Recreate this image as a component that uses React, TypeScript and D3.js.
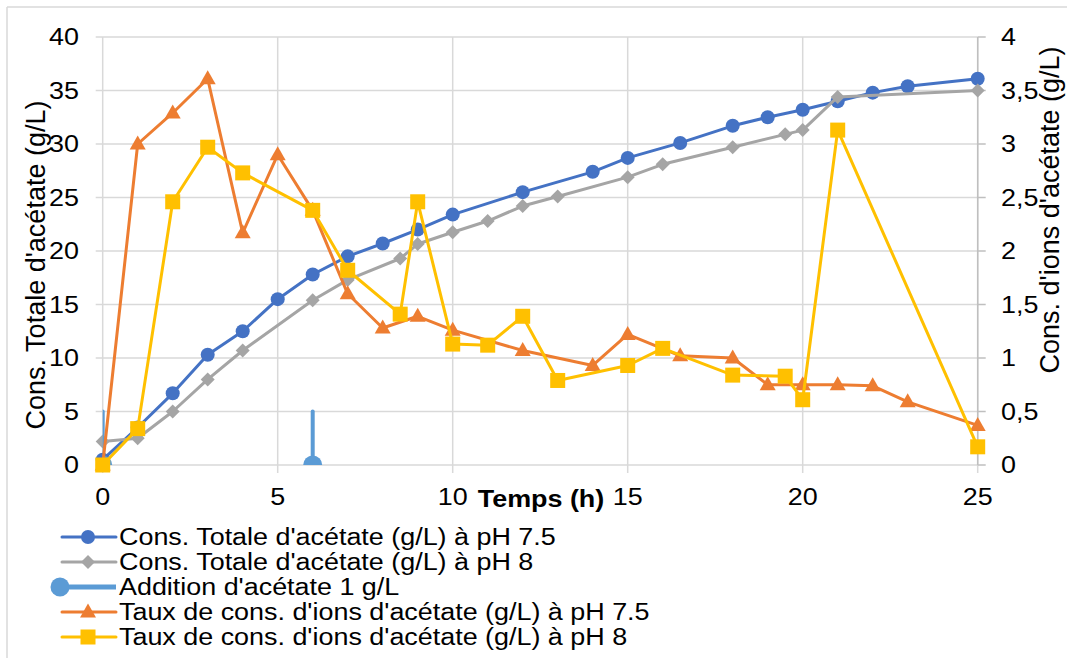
import React from "react";
import * as d3 from "d3";

// time (h) for the pH 7.5 runs
const hours75 = [0, 1, 2, 3, 4, 5, 6, 7, 8, 9, 10, 12, 14, 15, 16.5, 18, 19, 20, 21, 22, 23, 25];
const total75 = [0.5, 3.5, 6.7, 10.3, 12.5, 15.5, 17.8, 19.5, 20.7, 22.0, 23.4, 25.5, 27.4, 28.7, 30.1, 31.7, 32.5, 33.2, 34.0, 34.8, 35.4, 36.1];
const rate75 = [0, 3.0, 3.29, 3.61, 2.17, 2.9, 2.38, 1.6, 1.28, 1.39, 1.26, 1.07, 0.93, 1.22, 1.02, 1.0, 0.75, 0.75, 0.75, 0.74, 0.59, 0.37];

// time (h) for the pH 8 runs
const hours8 = [0, 1, 2, 3, 4, 6, 7, 8.5, 9, 10, 11, 12, 13, 15, 16, 18, 19.5, 20, 21, 25];
const total8 = [2.2, 2.5, 5.0, 8.0, 10.7, 15.4, 17.3, 19.3, 20.65, 21.75, 22.8, 24.2, 25.1, 26.9, 28.1, 29.7, 30.9, 31.3, 34.4, 35.0];
const rate8 = [0, 0.34, 2.46, 2.97, 2.73, 2.38, 1.82, 1.41, 2.46, 1.13, 1.12, 1.39, 0.79, 0.93, 1.09, 0.84, 0.83, 0.61, 3.13, 0.17];

// acetate additions (value + error bar height)
const additionHours = [0, 6];
const additionValue = [0, 0];
const additionBar = 5;

const xTicks = [0, 5, 10, 15, 20, 25];
const leftTicks = [0, 5, 10, 15, 20, 25, 30, 35, 40];
const rightTicks = [0, 0.5, 1, 1.5, 2, 2.5, 3, 3.5, 4];

const legendLabels = [
  "Cons. Totale d'acétate (g/L) à pH 7.5",
  "Cons. Totale d'acétate (g/L) à pH 8",
  "Addition d'acétate 1 g/L",
  "Taux de cons. d'ions d'acétate (g/L) à pH 7.5",
  "Taux de cons. d'ions d'acétate (g/L) à pH 8",
];

const BLUE = "#4472C4";
const GRAY = "#A5A5A5";
const LBLUE = "#5B9BD5";
const ORANGE = "#ED7D31";
const YELLOW = "#FFC000";
const GRID = "#d9d9d9";
const FONT = "'Liberation Sans', Arial, sans-serif";
const SX = 1.17; // text in the picture is a bit wider than tall
const FS = 23;

const W = 1067;
const H = 658;

const x = d3.scaleLinear().domain([0, 25]).range([102.7, 977.7]);
const yL = d3.scaleLinear().domain([0, 40]).range([465, 37]);
const yR = d3.scaleLinear().domain([0, 4]).range([465, 37]);

function SText({ x, y, anchor = "start", size = FS, bold = false, children }: any) {
  return (
    <text
      transform={`translate(${x},${y}) scale(${SX},1)`}
      textAnchor={anchor}
      dominantBaseline="central"
      fontSize={size}
      fontWeight={bold ? "bold" : "normal"}
      fill="#000"
    >
      {children}
    </text>
  );
}

function Marker({ kind, cx, cy, color }: any) {
  if (kind === "circle") return <circle cx={cx} cy={cy} r={7} fill={color} />;
  if (kind === "diamond")
    return <path d={`M${cx},${cy - 7}L${cx + 7},${cy}L${cx},${cy + 7}L${cx - 7},${cy}Z`} fill={color} />;
  if (kind === "triangle")
    return <path d={`M${cx},${cy - 8.5}L${cx + 8},${cy + 5.5}L${cx - 8},${cy + 5.5}Z`} fill={color} />;
  return <rect x={cx - 7.5} y={cy - 7.5} width={15} height={15} fill={color} />;
}

function Series({ xs, ys, yScale, color, kind }: any) {
  const pts: [number, number][] = xs.map((h: number, i: number) => [x(h), yScale(ys[i])]);
  const line = d3.line();
  return (
    <g>
      <path d={line(pts) || ""} fill="none" stroke={color} strokeWidth={3} strokeLinejoin="round" />
      {pts.map((p, i) => (
        <Marker key={i} kind={kind} cx={p[0]} cy={p[1]} color={color} />
      ))}
    </g>
  );
}

export default function App() {
  const legendY = (i: number) => 537 + i * 25;
  const kinds = ["circle", "diamond", "add", "triangle", "square"];
  const colors = [BLUE, GRAY, LBLUE, ORANGE, YELLOW];

  return (
    <svg
      width={W}
      height={H}
      style={{ position: "absolute", left: 0, top: 0, background: "#fff" }}
      fontFamily={FONT}
    >
      <defs>
        <clipPath id="plot">
          <rect x={x(0)} y={yL(40)} width={x(25) - x(0)} height={yL(0) - yL(40)} />
        </clipPath>
      </defs>

      {/* chart frame */}
      <line x1={7} y1={7} x2={W} y2={7} stroke={GRID} strokeWidth={1.5} />
      <line x1={7} y1={7} x2={7} y2={H} stroke={GRID} strokeWidth={1.5} />

      {/* gridlines */}
      {leftTicks.map((t) => (
        <line key={"h" + t} x1={x(0) - 7} x2={x(25)} y1={yL(t)} y2={yL(t)} stroke={GRID} strokeWidth={1.5} />
      ))}
      {xTicks.map((t) => (
        <line key={"v" + t} x1={x(t)} x2={x(t)} y1={yL(40)} y2={yL(0) + 8} stroke={GRID} strokeWidth={1.5} />
      ))}
      {/* right axis */}
      <line x1={x(25)} x2={x(25)} y1={yR(4)} y2={yR(0)} stroke="#bfbfbf" strokeWidth={1.5} />
      {rightTicks.map((t) => (
        <line key={"r" + t} x1={x(25)} x2={x(25) + 8} y1={yR(t)} y2={yR(t)} stroke="#bfbfbf" strokeWidth={1.5} />
      ))}

      {/* tick labels */}
      {leftTicks.map((t) => (
        <SText key={"lt" + t} x={79} y={yL(t)} anchor="end">
          {t}
        </SText>
      ))}
      {rightTicks.map((t) => (
        <SText key={"rt" + t} x={1001} y={yR(t)} anchor="start">
          {String(t).replace(".", ",")}
        </SText>
      ))}
      {xTicks.map((t) => (
        <SText key={"xt" + t} x={x(t)} y={497} anchor="middle">
          {t}
        </SText>
      ))}
      <SText x={541} y={499} anchor="middle" bold>
        Temps (h)
      </SText>

      {/* axis titles */}
      <text
        transform={`translate(36,265) rotate(-90)`}
        textAnchor="middle"
        dominantBaseline="central"
        fontSize={27}
      >
        Cons. Totale d'acétate (g/L)
      </text>
      <text
        transform={`translate(1050,210) rotate(-90)`}
        textAnchor="middle"
        dominantBaseline="central"
        fontSize={27}
      >
        Cons. d'ions d'acétate (g/L)
      </text>

      {/* series */}
      <Series xs={hours75} ys={total75} yScale={yL} color={BLUE} kind="circle" />
      <Series xs={hours8} ys={total8} yScale={yL} color={GRAY} kind="diamond" />
      <g clipPath="url(#plot)">
        {additionHours.map((h, i) => (
          <g key={"ad" + i}>
            <line
              x1={x(h)}
              x2={x(h)}
              y1={yL(additionValue[i])}
              y2={yL(additionValue[i] + additionBar)}
              stroke={LBLUE}
              strokeWidth={4}
              strokeLinecap="round"
            />
            <circle cx={x(h)} cy={yL(additionValue[i])} r={9.5} fill={LBLUE} />
          </g>
        ))}
      </g>
      <Series xs={hours75} ys={rate75} yScale={yR} color={ORANGE} kind="triangle" />
      <Series xs={hours8} ys={rate8} yScale={yR} color={YELLOW} kind="square" />

      {/* legend */}
      {legendLabels.map((lab, i) => {
        const ly = legendY(i);
        const k = kinds[i];
        return (
          <g key={"lg" + i}>
            {k === "add" ? (
              <>
                <line x1={60} x2={116} y1={ly} y2={ly} stroke={colors[i]} strokeWidth={5} />
                <circle cx={60} cy={ly} r={9.5} fill={colors[i]} />
              </>
            ) : (
              <>
                <line x1={62} x2={116} y1={ly} y2={ly} stroke={colors[i]} strokeWidth={3} strokeLinecap="round" />
                <Marker kind={k} cx={88} cy={ly} color={colors[i]} />
              </>
            )}
            <SText x={119} y={ly}>
              {lab}
            </SText>
          </g>
        );
      })}
    </svg>
  );
}
